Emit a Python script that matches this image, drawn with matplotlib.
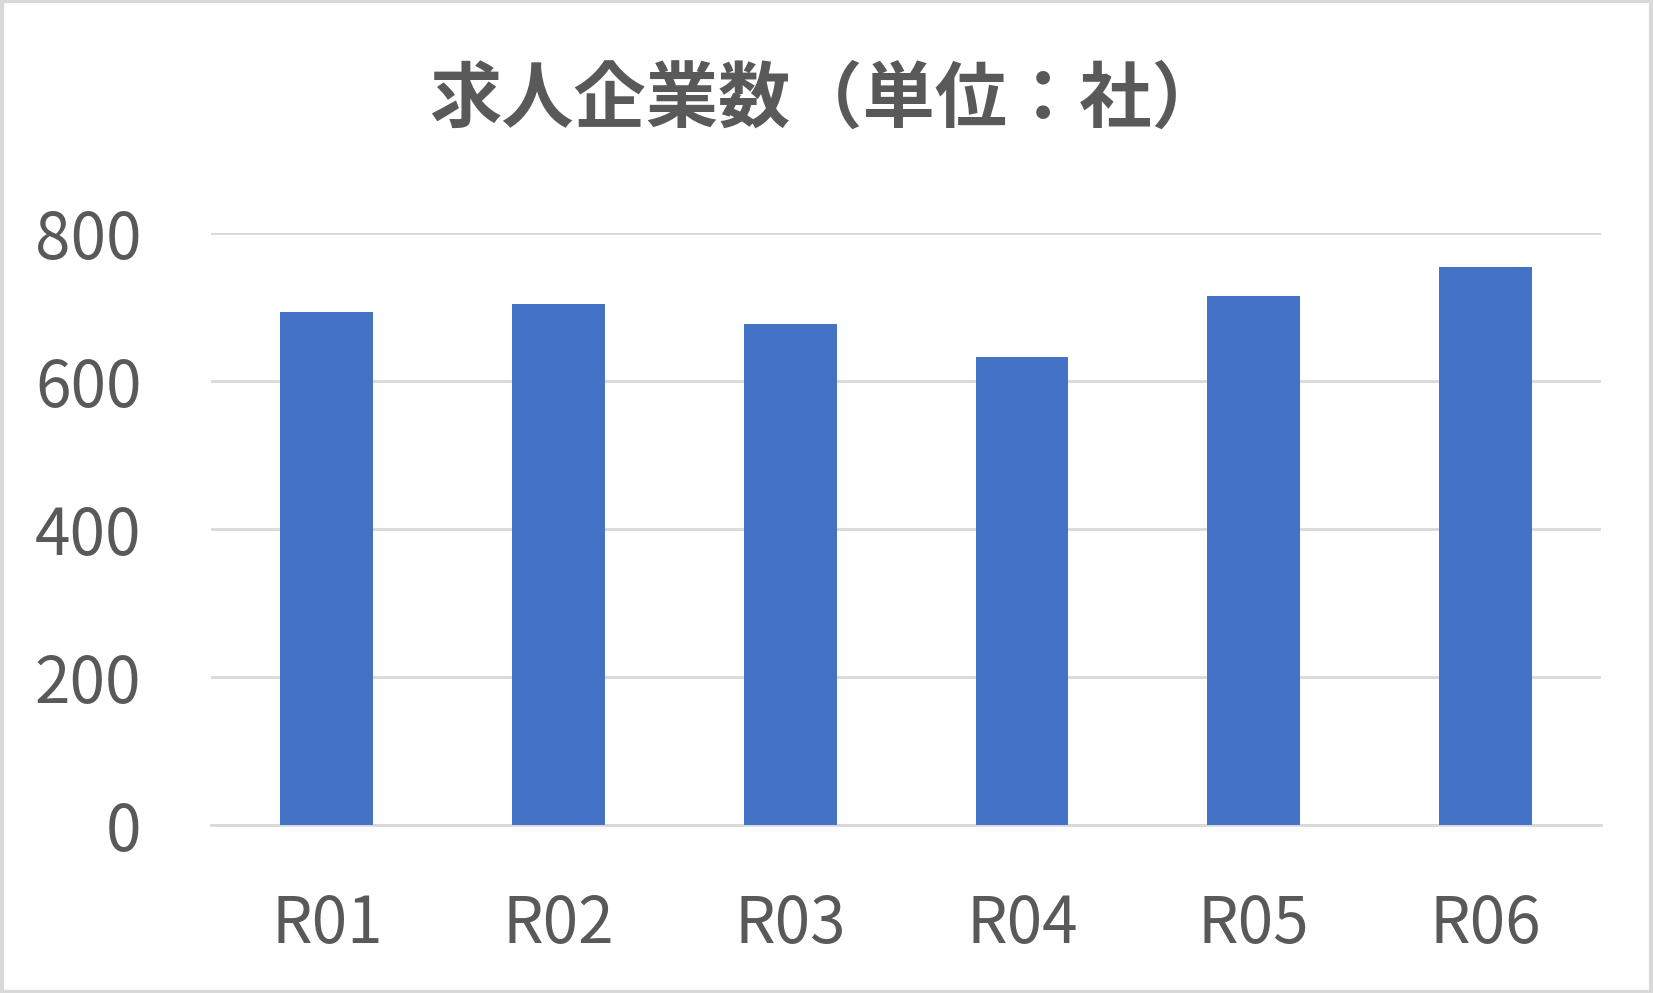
import matplotlib
matplotlib.use("Agg")
import matplotlib.pyplot as plt
from matplotlib.patches import Rectangle

plt.rcParams['font.family'] = ['Noto Sans CJK JP', 'DejaVu Sans']

# data
years = ["R01", "R02", "R03", "R04", "R05", "R06"]
companies = [693, 704, 677, 632, 715, 754]
title = "求人企業数（単位：社）"

text_color = "#595959"
grid_color = "#d9d9d9"
bar_color = "#4472c4"

fig = plt.figure(figsize=(16.53, 9.93), dpi=100)
ax = fig.add_axes([0.1276, 0.1692, 0.841, 0.5962])

ax.bar(years, companies, width=0.4, color=bar_color, zorder=3)

ax.set_ylim(0, 800)
ax.set_yticks([0, 200, 400, 600, 800])
ax.set_xlim(-0.5, len(years) - 0.5)
ax.grid(axis="y", color=grid_color, linewidth=2, zorder=0)
ax.tick_params(axis="both", length=0, labelsize=46, labelcolor=text_color)
ax.tick_params(axis="y", pad=50)
ax.tick_params(axis="x", pad=48)
for s in ["top", "right", "left"]:
    ax.spines[s].set_visible(False)
ax.spines["bottom"].set_color(grid_color)
ax.spines["bottom"].set_linewidth(2)

fig.text(0.5, 0.899, title, ha="center", va="center", fontsize=52,
         fontweight="bold", color=text_color)

# outer border
fig.patches.append(Rectangle((0.001, 0.001), 0.998, 0.998, transform=fig.transFigure,
                             fill=False, edgecolor=grid_color, linewidth=3))

fig.savefig("out.png", dpi=100)
